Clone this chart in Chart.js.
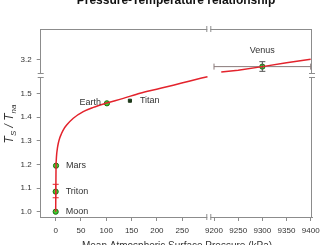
<!DOCTYPE html>
<html lang="en">
<head>
<meta charset="UTF-8">
<title>Pressure-Temperature relationship</title>
<script src="https://cdn.jsdelivr.net/npm/chart.js"></script>
<style>
  body { margin: 0; padding: 0; background: #ffffff; }
  #chart { display: block; }
</style>
</head>
<body>
<canvas id="chart" width="326" height="245"></canvas>
<script>
// fitted curve (pressure kPa, Ts/Tna)
const curveP = [0, 0.69, 1.2, 2, 3.5, 5.2, 8, 11.8, 16, 21.7, 34.8, 54.5, 74.3, 98.8, 133.6, 166.6, 199.6, 232.4, 265.4, 300];
const curveR = [1.0, 1.19, 1.22, 1.245, 1.27, 1.29, 1.312, 1.332, 1.35, 1.367, 1.396, 1.424, 1.442, 1.459, 1.48, 1.502, 1.519, 1.536, 1.554, 1.572];
const curveHiP = [9215, 9250, 9300, 9350, 9400];
const curveHiR = [3.146, 3.154, 3.169, 3.185, 3.2];

const bodies = ['Moon', 'Triton', 'Mars', 'Earth'];
const bodyP = [0, 0.0014, 0.69, 101.3];
const bodyR = [1.0, 1.085, 1.195, 1.459];
const titanP = 146.7, titanR = 1.47;
const venusP = 9300, venusR = 3.169;
const tritonErr = [1.059, 1.116];
const venusErrY = [3.149, 3.19];
const venusErrX = [9200, 9400];

const xLeftTicks = [0, 50, 100, 150, 200, 250];
const xRightTicks = [9200, 9250, 9300, 9350, 9400];
const yLowTicks = [1.0, 1.1, 1.2, 1.3, 1.4, 1.5];
const yHighTicks = [3.2];

const axisColor = '#8c8c8c';
const textColor = '#333333';
const red = '#e3232c';
const tickFont = { family: 'Liberation Sans, Arial, sans-serif', size: 8 };

function axis(extra) {
    return Object.assign({
        type: 'linear',
        grid: { display: true, drawOnChartArea: false, drawTicks: true, tickLength: 4, color: axisColor },
        border: { display: true, color: axisColor, width: 1 }
    }, extra);
}
function setTicks(list) {
    return function (scale) { scale.ticks = list.map(v => ({ value: v })); };
}

const decor = {
    id: 'decor',
    afterDraw(chart) {
        const ctx = chart.ctx;
        const a = chart.chartArea;
        const xL = chart.scales.xL, yT = chart.scales.yT;
        const bx = xL.right, by = yT.bottom;
        ctx.save();
        ctx.strokeStyle = axisColor;
        ctx.lineWidth = 1;
        // top and right frame
        ctx.beginPath();
        ctx.moveTo(a.left, a.top + 0.5); ctx.lineTo(a.right, a.top + 0.5);
        ctx.moveTo(a.right - 0.5, a.top); ctx.lineTo(a.right - 0.5, a.bottom);
        ctx.stroke();
        // break marks
        ctx.fillStyle = '#ffffff';
        [a.top, a.bottom].forEach(y => {
            ctx.fillRect(bx - 1, y - 2, 3, 4);
            ctx.beginPath();
            ctx.moveTo(bx - 1.5, y - 3); ctx.lineTo(bx - 1.5, y + 3);
            ctx.moveTo(bx + 2.5, y - 3); ctx.lineTo(bx + 2.5, y + 3);
            ctx.stroke();
        });
        [a.left, a.right].forEach(x => {
            ctx.fillRect(x - 2, by - 1, 4, 3);
            ctx.beginPath();
            ctx.moveTo(x - 3, by - 1.5); ctx.lineTo(x + 3, by - 1.5);
            ctx.moveTo(x - 3, by + 2.5); ctx.lineTo(x + 3, by + 2.5);
            ctx.stroke();
        });
        // point labels
        const xs = chart.scales.xL, ys = chart.scales.yB;
        ctx.fillStyle = textColor;
        ctx.font = '9px Liberation Sans, Arial, sans-serif';
        ctx.textBaseline = 'middle';
        bodies.forEach((name, i) => {
            const px = xs.getPixelForValue(bodyP[i]);
            const py = ys.getPixelForValue(bodyR[i]);
            if (name === 'Earth') {
                ctx.textAlign = 'right';
                ctx.fillText(name, px - 6, py - 1);
            } else {
                ctx.textAlign = 'left';
                ctx.fillText(name, px + 10, py);
            }
        });
        ctx.textAlign = 'left';
        ctx.fillText('Titan', xs.getPixelForValue(titanP) + 10, ys.getPixelForValue(titanR));
        ctx.textAlign = 'center';
        ctx.fillText('Venus', chart.scales.xR.getPixelForValue(venusP), yT.getPixelForValue(venusR) - 16);
        // chart title (cut by the top edge)
        ctx.font = 'bold 12px Liberation Sans, Arial, sans-serif';
        ctx.textBaseline = 'alphabetic';
        ctx.fillStyle = '#111111';
        ctx.fillText('Pressure-Temperature relationship', 176, 4);
        // x title (cut by the bottom edge)
        ctx.font = '10px Liberation Sans, Arial, sans-serif';
        ctx.fillStyle = textColor;
        ctx.fillText('Mean Atmospheric Surface Pressure (kPa)', 177, 249);
        // y title
        ctx.translate(13, 124);
        ctx.rotate(-Math.PI / 2);
        ctx.textAlign = 'left';
        const big = 'italic 12px Liberation Sans, Arial, sans-serif';
        const small = 'italic 8px Liberation Sans, Arial, sans-serif';
        const parts = [['T', big, 0], ['S', small, 3], [' / ', big, 0], ['T', big, 0], ['na', small, 3]];
        let w = 0;
        parts.forEach(p => { ctx.font = p[1]; w += ctx.measureText(p[0]).width; });
        let x = -w / 2;
        parts.forEach(p => { ctx.font = p[1]; ctx.fillText(p[0], x, p[2]); x += ctx.measureText(p[0]).width; });
        ctx.restore();
    }
};

const lo = { xAxisID: 'xL', yAxisID: 'yB' };
const hi = { xAxisID: 'xR', yAxisID: 'yT' };
const xTickOpts = { font: tickFont, color: textColor, padding: 5, maxRotation: 0, autoSkip: false, callback: v => String(v) };
const yTickOpts = { font: tickFont, color: textColor, padding: 5, autoSkip: false, callback: v => v.toFixed(1) };

new Chart(document.getElementById('chart'), {
    type: 'line',
    data: {
        datasets: [
            Object.assign({
                data: curveP.map((p, i) => ({ x: p, y: curveR[i] })),
                borderColor: red, borderWidth: 1.5, pointRadius: 0, cubicInterpolationMode: 'monotone'
            }, lo),
            Object.assign({
                data: curveHiP.map((p, i) => ({ x: p, y: curveHiR[i] })),
                borderColor: red, borderWidth: 1.5, pointRadius: 0
            }, hi),
            Object.assign({
                data: tritonErr.map(v => ({ x: bodyP[1], y: v })),
                borderColor: red, borderWidth: 1, pointStyle: 'line', pointRadius: 3,
                pointBorderColor: red, pointBorderWidth: 1
            }, lo),
            Object.assign({
                data: venusErrX.map(v => ({ x: v, y: venusR })),
                borderColor: '#8a7a7a', borderWidth: 1, pointStyle: 'line', pointRotation: 90, pointRadius: 3,
                pointBorderColor: '#8a7a7a', pointBorderWidth: 1
            }, hi),
            Object.assign({
                data: venusErrY.map(v => ({ x: venusP, y: v })),
                borderColor: '#555555', borderWidth: 1, pointStyle: 'line', pointRadius: 3,
                pointBorderColor: '#555555', pointBorderWidth: 1
            }, hi),
            Object.assign({
                data: bodyP.map((p, i) => ({ x: p, y: bodyR[i] })),
                showLine: false, pointRadius: 2.6, pointBackgroundColor: '#3fcf2f',
                pointBorderColor: '#1d6b12', pointBorderWidth: 1
            }, lo),
            Object.assign({
                data: [{ x: titanP, y: titanR }],
                showLine: false, pointStyle: 'rect', pointRadius: 2.2, pointBackgroundColor: '#1f3a1a',
                pointBorderColor: '#1f3a1a', pointBorderWidth: 1
            }, lo),
            Object.assign({
                data: [{ x: venusP, y: venusR }],
                showLine: false, pointRadius: 2.6, pointBackgroundColor: '#3fcf2f',
                pointBorderColor: '#1d6b12', pointBorderWidth: 1
            }, hi)
        ]
    },
    options: {
        responsive: false,
        animation: false,
        devicePixelRatio: 1,
        layout: { padding: { left: 18.7, top: 29, right: 14, bottom: 0 } },
        plugins: { legend: { display: false }, tooltip: { enabled: false } },
        scales: {
            xL: axis({
                position: 'bottom', stack: 'xs', stackWeight: 167.6, min: -29.6, max: 301.6,
                afterBuildTicks: setTicks(xLeftTicks),
                afterFit(s) { s.height = 28; },
                ticks: xTickOpts
            }),
            xR: axis({
                position: 'bottom', stack: 'xs', stackWeight: 103.7, min: 9188.2, max: 9402.7,
                afterBuildTicks: setTicks(xRightTicks),
                afterFit(s) { s.height = 28; },
                ticks: xTickOpts
            }),
            yB: axis({
                position: 'left', stack: 'ys', stackWeight: 142, min: 0.9775, max: 1.579,
                afterBuildTicks: setTicks(yLowTicks),
                afterFit(s) { s.width = 22; },
                ticks: yTickOpts
            }),
            yT: axis({
                position: 'left', stack: 'ys', stackWeight: 46, min: 3.1335, max: 3.3284,
                afterBuildTicks: setTicks(yHighTicks),
                afterFit(s) { s.width = 22; },
                ticks: yTickOpts
            })
        }
    },
    plugins: [decor]
});
</script>
</body>
</html>
